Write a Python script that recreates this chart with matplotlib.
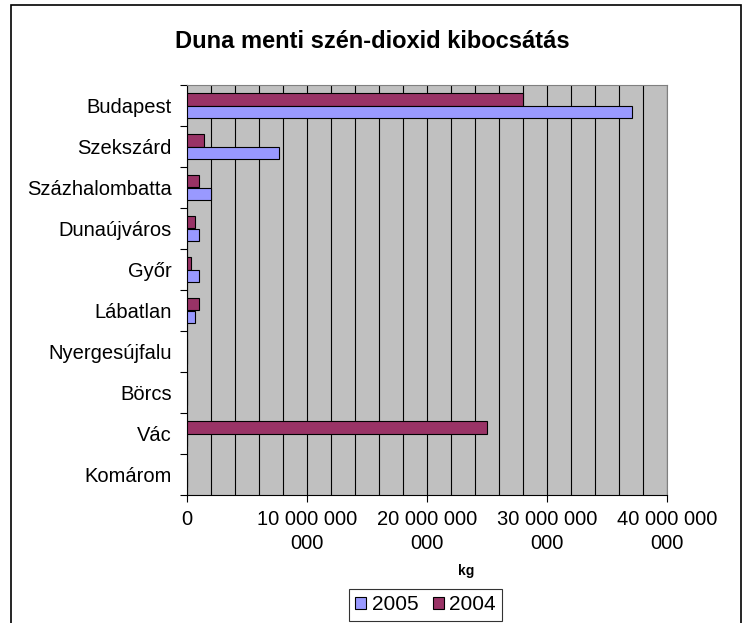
import numpy as np
import matplotlib
matplotlib.use("Agg")
import matplotlib.pyplot as plt
from matplotlib.patches import Rectangle
from matplotlib.ticker import FuncFormatter

plt.rcParams['font.family'] = ['Liberation Sans', 'DejaVu Sans']

cities = ["Budapest", "Szekszárd", "Százhalombatta", "Dunaújváros", "Győr",
          "Lábatlan", "Nyergesújfalu", "Börcs", "Vác", "Komárom"]
# kg CO2
y2005 = [37.1e9, 7.7e9, 2.0e9, 1.0e9, 1.0e9, 0.7e9, 0, 0, 0, 0]
y2004 = [28.0e9, 1.4e9, 1.0e9, 0.7e9, 0.3e9, 1.0e9, 0, 0, 25.0e9, 0]
xticks = [0, 10e9, 20e9, 30e9, 40e9]

fig = plt.figure(figsize=(7.44, 6.23), dpi=100)
ax = fig.add_axes([187 / 744, 1 - 495 / 623, 480 / 744, 410 / 623])
ax.set_facecolor("#C0C0C0")

pos = np.arange(len(cities))
h = 0.3
ax.barh(pos - h / 2, y2004, height=h, color="#993366", edgecolor="black", lw=0.8, label="2004", zorder=3)
ax.barh(pos + h / 2, y2005, height=h, color="#9999FF", edgecolor="black", lw=0.8, label="2005", zorder=3)

ax.set_xlim(0, 40e9)
ax.set_ylim(len(cities) - 0.5, -0.5)

# x axis
def fmt(v, p):
    if v == 0:
        return "0"
    s = f"{int(v):,}".replace(",", " ")
    return s[:-4] + "\n" + s[-3:]

ax.set_xticks(xticks)
ax.xaxis.set_major_formatter(FuncFormatter(fmt))
for t in ax.get_xticklabels():
    t.set_linespacing(1.3)
ax.set_xticks(np.arange(0, 40e9 + 1, 2e9), minor=True)
ax.tick_params(axis="x", which="major", length=5, width=0.8, pad=6, labelsize=14.5, direction="out")
ax.tick_params(axis="x", which="minor", length=0)
ax.grid(axis="x", which="both", color="black", lw=0.8, zorder=1)
ax.set_axisbelow(True)

# y axis
ax.set_yticks(pos)
ax.set_yticklabels(cities)
ax.set_yticks(np.arange(-0.5, len(cities)), minor=True)
ax.tick_params(axis="y", which="major", length=0, pad=11, labelsize=14.5)
ax.tick_params(axis="y", which="minor", length=5, width=0.8, direction="out")

for s in ["top", "right"]:
    ax.spines[s].set_color("#808080")
for s in ["left", "bottom"]:
    ax.spines[s].set_color("black")

fig.text(0.5, 1 - 42 / 623, "Duna menti szén-dioxid kibocsátás", ha="center", va="center",
         fontsize=17, fontweight="bold")
fig.text(466 / 744, 1 - 571 / 623, "kg", ha="center", va="center", fontsize=10, fontweight="bold")

handles, labels = ax.get_legend_handles_labels()
leg = fig.legend(handles[::-1], labels[::-1], loc="center", bbox_to_anchor=(425.5 / 744, 1 - 605 / 623),
                 ncol=2, fontsize=15, frameon=True, fancybox=False, edgecolor="black",
                 handlelength=0.55, handleheight=0.55, handletextpad=0.25, columnspacing=0.7,
                 borderpad=0.3, borderaxespad=0)
leg.get_frame().set_linewidth(0.8)

fig.add_artist(Rectangle((11 / 744, -0.01), 730 / 744, 1 - 5 / 623 + 0.01, transform=fig.transFigure,
                         fill=False, edgecolor="black", lw=1.2))

fig.savefig("out.png", dpi=100)
